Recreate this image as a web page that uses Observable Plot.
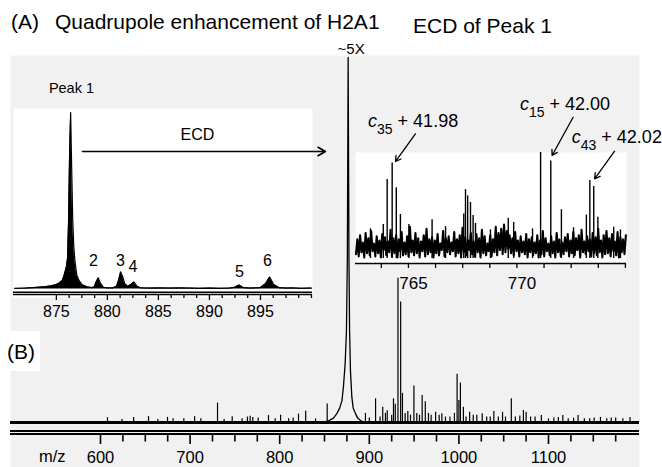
<!DOCTYPE html>
<html><head><meta charset="utf-8">
<script src="https://cdn.jsdelivr.net/npm/d3@7"></script>
<script src="https://cdn.jsdelivr.net/npm/@observablehq/plot@0.6"></script>
<style>
body{margin:0;background:#fff;}
#wrap{position:relative;width:662px;height:467px;overflow:hidden;}
</style></head><body><div id="wrap"></div>
<script>
const FONT = "'Liberation Sans', Arial, Helvetica, sans-serif";

// ---------- main spectrum (B) ----------
const mainMajor = [600, 700, 800, 900, 1000, 1100];
const mainMinor = [625,650,675,725,750,775,825,850,875,925,950,975,1025,1050,1075,1125,1150,1175];
const mainPeakM = [607.8,624,637,653.6,664,674.8,681,693,705,712,730.6,738,747,758,764,767,770,776,787.5,795,801,810,815,821,829,840,853,
  895.7,900,907,912,915,918,920,925,927,929,932,935,937,940,943,946,949.8,953,956,959,962.5,966,969,974,978,981,985,990,995,998,1000,1001.7,1005,1008,1012,1016,1020,1026,1031,1035,1039,1044,1048.7,1052,1058.5,1063,1068,1072,1075,1080,1085,1092,1100,1106,1111,1116,1122,1128,1133,1140,1146,1151,1158,1165,1170,1175,1183,1191];
const mainPeakH = [1.3,0.8,1.4,1.6,0.8,1.4,1.0,1.0,1.6,1.0,5.3,0.8,1.6,1.0,1.5,1.7,1.4,1.2,1.9,1.0,2.0,1.0,1.2,2.3,3.1,1.0,5.1,
  2.5,1.2,6.5,1.5,4.2,2.5,3.2,2.0,6.5,5,39.5,33,8,2.5,3,2.0,10,2.5,2,7.4,5.7,2.5,2.0,2.8,2.0,2.4,1.5,1.5,2.5,13.2,6,10.8,4.2,1.5,2.8,2,2,2.4,1.5,1.5,3,1.5,2.8,1.5,6.5,1.5,1.8,3.3,2.8,1.5,1.5,1.9,1.0,1.2,1.4,1.9,1.0,1.2,1.9,1.0,1.0,1.2,1.4,1.0,1.2,1.2,1.0,1.4];
const mainProfileM = [848,855,860,864,867,869.5,871.2,873,874.5,875.5,876.4,877.3,878,879,880.5,882,884.5,887,890,894];
const mainProfileH = [0,0.5,1.2,2.5,4,6,10,16,25,45,100,45,25,14,7,4,2.5,1.2,0.6,0];
const mainTopPeak = {label: "~5X", m: 876.4};

// ---------- left inset (Quadrupole enhancement) ----------
const leftMajor = [875, 880, 885, 890, 895];
const leftMinor = [876.25,877.5,878.75,881.25,882.5,883.75,886.25,887.5,888.75,891.25,892.5,893.75,896.25,897.5,898.75,900];
const leftProfileM = [870.9,872,873,874,874.5,875,875.3,875.6,875.8,876.0,876.1,876.2,876.3,876.4,876.5,876.6,876.7,876.8,877.0,877.2,877.5,878.0,878.5,878.7,878.9,879.1,879.3,879.6,880.0,880.5,880.9,881.1,881.3,881.5,881.7,882.0,882.3,882.6,882.9,883.3,884,885,886,887,888,889,890,891,892,892.5,892.9,893.3,894,895,895.5,895.9,896.3,896.8,897.5,898,899,900];
const leftProfileH = [0.3,0.5,0.9,1.4,1.8,2.5,3.4,5,8.5,13,17.6,40,78,100,69,40,25,17,8,5,2.5,1.2,0.8,1.2,4,6.3,3.5,1,0.6,0.6,1.5,5,9.7,7,3,1.5,2.5,4,1.5,0.6,0.5,0.6,0.5,0.6,0.5,0.4,0.5,0.4,0.5,1,2.3,0.8,0.5,0.8,3,6.8,2.5,0.8,0.5,0.6,0.4,0.5];
const leftPeakLabels = ["2", "3", "4", "5", "6"];
const leftPeakLabelM = [878.64, 881.29, 882.51, 892.95, 895.69];
const leftPeakLabelH = [13.3, 13.3, 9.5, 6.7, 13.3];
const peakOneLabel = {label: "Peak 1", m: 876.48, h: 111.3};
const ecdLabel = {label: "ECD", m: 888.83, h: 84.7};
const ecdArrow = {m1: 877.56, m2: 901.37, h: 77.9};

// ---------- right inset (ECD of Peak 1) ----------
const rightTicks = [763.75,765,766.25,767.5,768.75,770,771.25,772.5,773.75,775];
const rightLabels = [765, 770];
const ecdPeakM = [763.25,763.84,764.02,764.25,764.44,764.63,765.02,766.09,766.71,767.55,767.63,767.73,767.86,767.98,768.09,768.78,769.60,769.85,770.72,771.09,771.56,772.05,772.61,773.20,773.36,773.54,773.73,774.46,774.77];
const ecdPeakH = [28,32,74.5,90,66.7,41.5,32,36.5,30,42,65,59,53,40.5,33,27,38,34,28,100,92,46,29,41,73.5,68,39,29.5,27];
const noiseStart = 762.58, noiseStep = 0.0638;
const noise = [
 4,18,2,22,6,15,1,24,5,19,3,26,7,14,
 2,21,5,17,1,23,8,20,3,16,6,27,2,19,
 5,22,1,18,7,25,3,15,4,21,2,30,6,17,
 3,24,5,19,1,16,7,22,2,28,4,18,6,20,
 1,17,5,23,3,14,8,26,2,19,6,21,4,15,
 7,25,2,18,5,22,1,29,6,20,3,17,8,24,
 4,16,2,23,6,19,1,27,5,21,3,14,7,22,
 2,18,6,30,3,24,8,28,4,32,6,26,9,22,
 5,19,3,25,7,17,2,21,6,16,4,23,1,18,
 6,20,3,15,5,22,1,17,4,26,2,19,7,14,
 3,21,5,16,1,24,6,18,2,15,4,20,7,23,
 2,17,5,25,3,19,8,22,1,27,6,16,4,21,
 7,18,2,24,5,20,3,28,6,17,1,22,4,26,
 5,19,2,23,7,16,3,25,1,20,6,18,4,22];
const ionIon = ["c", "c", "c"];
const ionSub = ["35", "15", "43"];
const ionShift = ["41.98", "42.00", "42.02"];
const ionLabelM = [763.16, 770.16, 772.55];
const ionLabelH = [123.6, 139.6, 108.5];
const ionArrowM1 = [765.32, 772.59, 774.50];
const ionArrowH1 = [117.6, 133.3, 101.2];
const ionArrowM2 = [764.40, 771.62, 773.58];
const ionArrowH2 = [91.5, 97.2, 75.2];

// ---------- titles ----------
const titleA = "(A)";
const titleMain = "Quadrupole enhancement of H2A1";
const titleECD = "ECD of Peak 1";
const titleB = "(B)";
const xUnit = "m/z";

// ---------- build tables ----------
const mainPeaks = mainPeakM.map((m, i) => ({m, h: mainPeakH[i]}));
const mainProfile = mainProfileM.map((m, i) => ({m, h: mainProfileH[i]}));
const leftProfile = leftProfileM.map((m, i) => ({m, h: leftProfileH[i]}));
const leftLabels = leftPeakLabels.map((label, i) => ({label, m: leftPeakLabelM[i], h: leftPeakLabelH[i]}));
const ecdPeaks = ecdPeakM.map((m, i) => ({m, h: ecdPeakH[i]}));
const noiseData = noise.map((h, i) => ({m: noiseStart + i * noiseStep, h}));
const ions = ionIon.map((ion, i) => ({ion, sub: ionSub[i], shift: ionShift[i], m: ionLabelM[i], h: ionLabelH[i],
  m1: ionArrowM1[i], h1: ionArrowH1[i], m2: ionArrowM2[i], h2: ionArrowH2[i]}));

const baseStyle = (left, top) => ({background: "transparent", fontFamily: FONT, overflow: "visible",
  position: "absolute", left: left + "px", top: top + "px", maxWidth: "none", color: "black"});

const wrap = document.getElementById("wrap");

const main = Plot.plot({
  width: 662, height: 467,
  marginLeft: 10, marginRight: 23, marginTop: 55, marginBottom: 33,
  style: baseStyle(0, 0),
  x: {domain: [500, 1200], range: [10.4, 637.6], label: null},
  y: {domain: [0, 100], range: [422, 57], axis: null},
  marks: [
    Plot.frame({fill: "#f1f1f1", stroke: "none", insetBottom: -33}),
    Plot.ruleY([0], {stroke: "black", strokeWidth: 3}),
    Plot.ruleX(mainPeaks, {x: "m", y1: 0, y2: "h", stroke: "black", strokeWidth: 1.2}),
    Plot.line(mainProfile, {x: "m", y: "h", stroke: "black", strokeWidth: 1.3}),
    Plot.ruleY([0], {dy: 8.4, stroke: "black", strokeWidth: 2}),
    Plot.ruleY([0], {dy: 11.4, stroke: "black", strokeWidth: 2}),
    Plot.axisX({ticks: mainMajor, tickSize: 10, tickPadding: 7, fontSize: 16.5, strokeWidth: 1.6, tickFormat: "d"}),
    Plot.axisX({ticks: mainMinor, tickSize: 7.5, text: null, strokeWidth: 1.6}),
    Plot.text([mainTopPeak], {x: "m", y: () => 100, text: "label", fontSize: 15, dx: 3, dy: -4, lineAnchor: "bottom"})
  ]
});
wrap.appendChild(main);

const ms = d3.select(main);
ms.append("rect").attr("x", 0).attr("y", 331).attr("width", 40).attr("height", 40).attr("fill", "white");
const addText = (sel, txt, x, y, size) => sel.append("text").attr("x", x).attr("y", y)
  .attr("text-anchor", "start").attr("font-size", size).attr("font-family", FONT).attr("fill", "black").text(txt);
addText(ms, titleA, 11, 29, 21);
addText(ms, titleMain, 55, 29, 21);
addText(ms, titleECD, 413, 33, 21);
addText(ms, titleB, 7, 359, 21);
addText(ms, xUnit, 39, 462, 16.5);

const leftInset = Plot.plot({
  width: 340, height: 230,
  marginLeft: 13, marginRight: 28, marginTop: 8, marginBottom: 35.5,
  style: baseStyle(0, 100),
  x: {domain: [870.8, 900.1], label: null},
  y: {domain: [0, 100], range: [188.5, 12], axis: null},
  marks: [
    Plot.frame({fill: "white", stroke: "none", insetBottom: -2.5}),
    Plot.areaY(leftProfile, {x: "m", y: "h", fill: "black"}),
    Plot.line(leftProfile, {x: "m", y: "h", stroke: "black", strokeWidth: 1.2}),
    Plot.ruleY([0], {dy: 3.2, stroke: "black", strokeWidth: 1.5}),
    Plot.ruleY([0], {dy: 5.6, stroke: "black", strokeWidth: 1.5}),
    Plot.axisX({ticks: leftMajor, tickSize: 5.5, tickPadding: 5.5, fontSize: 16, strokeWidth: 1.3, tickFormat: "d"}),
    Plot.axisX({ticks: leftMinor, tickSize: 3.5, text: null, strokeWidth: 1.3}),
    Plot.text(leftLabels, {x: "m", y: "h", text: "label", fontSize: 16, lineAnchor: "bottom"}),
    Plot.text([peakOneLabel], {x: "m", y: "h", text: "label", fontSize: 14.5, lineAnchor: "bottom"}),
    Plot.text([ecdLabel], {x: "m", y: "h", text: "label", fontSize: 16, lineAnchor: "bottom"}),
    Plot.arrow([ecdArrow], {x1: "m1", x2: "m2", y1: "h", y2: "h", stroke: "black", strokeWidth: 1.6, headLength: 8})
  ]
});
wrap.appendChild(leftInset);

const rightInset = Plot.plot({
  width: 322, height: 210,
  marginLeft: 15, marginRight: 36, marginTop: 62, marginBottom: 37,
  style: baseStyle(340, 90),
  x: {domain: [762.56, 775.05], label: null},
  y: {domain: [0, 100], range: [168, 62], axis: null},
  marks: [
    Plot.frame({fill: "white", stroke: "none"}),
    Plot.line(noiseData, {x: "m", y: "h", stroke: "black", strokeWidth: 2.1}),
    Plot.ruleX(ecdPeaks, {x: "m", y1: 0, y2: "h", stroke: "black", strokeWidth: 1.4}),
    Plot.ruleY([0], {dy: 5, stroke: "black", strokeWidth: 1.5}),
    Plot.axisX({ticks: rightTicks, tickSize: 5, text: null, strokeWidth: 1.3}),
    Plot.axisX({ticks: rightLabels, tickSize: 0, tickPadding: 13.7, fontSize: 17, dx: 5, tickFormat: "d"}),
    Plot.arrow(ions, {x1: "m1", y1: "h1", x2: "m2", y2: "h2", stroke: "black", strokeWidth: 1.3, headLength: 7})
  ]
});
wrap.appendChild(rightInset);

const rs = d3.select(rightInset);
const sx = rightInset.scale("x"), sy = rightInset.scale("y");
ions.forEach(d => {
  const t = rs.append("text").attr("x", sx.apply(d.m)).attr("y", sy.apply(d.h)).attr("text-anchor", "start")
    .attr("font-size", 18).attr("font-family", FONT).attr("fill", "black");
  t.append("tspan").attr("font-style", "italic").text(d.ion);
  t.append("tspan").attr("font-size", 14).attr("dy", 7).text(d.sub);
  t.append("tspan").attr("dy", -7).text("\u00a0+ " + d.shift);
});
</script></body></html>
